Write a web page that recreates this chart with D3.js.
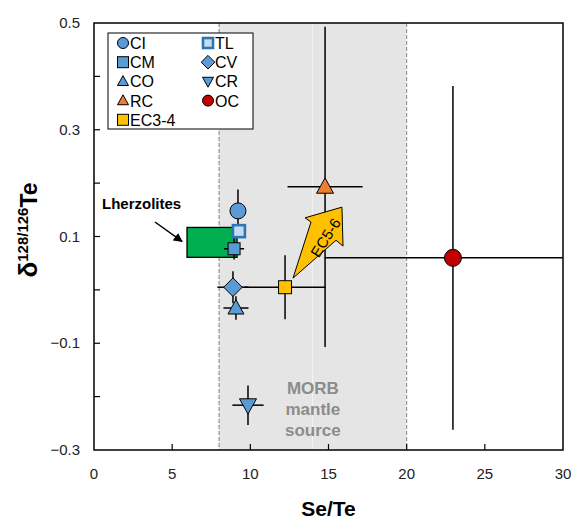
<!DOCTYPE html>
<html>
<head>
<meta charset="utf-8">
<script src="https://cdn.jsdelivr.net/npm/d3@7"></script>
<style>
  body { margin: 0; background: #fff; }
  svg { font-family: Arial, "Liberation Sans", sans-serif; }
</style>
</head>
<body>
<script>
// sample groups: Se/Te, delta, x error, y error
var names  = ["CI", "TL", "CM", "CV", "CO", "CR", "RC", "OC", "EC3-4"];
var seTe   = [9.21, 9.27, 8.96, 8.89, 9.08, 9.85, 14.78, 22.96, 12.22];
var delta  = [0.148, 0.110, 0.077, 0.005, -0.034, -0.216, 0.193, 0.060, 0.005];
var xErr   = [0, 0, 0.64, 1.0, 0.8, 1.0, 2.4, 8.2, 2.6];
var yErr   = [0.04, 0, 0.02, 0.03, 0.022, 0.037, 0.30, 0.322, 0.06];
var shapes = ["circle", "tl", "square", "diamond", "triangle", "down", "triangle", "circle", "square"];
var fills  = ["#5b9bd5", "#c5dcf0", "#5b9bd5", "#5b9bd5", "#5b9bd5", "#5b9bd5", "#ed7d31", "#c00000", "#ffc000"];

var legendOrder = ["CI", "TL", "CM", "CV", "CO", "CR", "RC", "OC", "EC3-4"];

// lherzolite field (x0, x1, y0, y1)
var lherz = [5.95, 9.15, 0.061, 0.117];
// MORB mantle source band
var morb = [8, 14, 20];
// EC5-6 arrow outline in data units
var arrowX = [12.73, 13.88, 13.50, 15.86, 15.93, 15.48];
var arrowY = [0.022, 0.127, 0.135, 0.155, 0.082, 0.093];

var xTicks = [0, 5, 10, 15, 20, 25, 30];
var yTicks = [-0.3, -0.2, -0.1, 0, 0.1, 0.2, 0.3, 0.4, 0.5];
var yLabels = [-0.3, -0.1, 0.1, 0.3, 0.5];

function drawChart() {
  var W = 575, H = 523;
  var pL = 94, pR = 563, pT = 23, pB = 450;

  var x = d3.scaleLinear().domain([0, 30]).range([pL, pR]);
  var y = d3.scaleLinear().domain([-0.3, 0.5]).range([pB, pT]);

  var svg = d3.select("body").append("svg")
    .attr("width", W)
    .attr("height", H);

  var defs = svg.append("defs");
  defs.append("clipPath").attr("id", "plot")
    .append("rect")
    .attr("x", pL).attr("y", pT)
    .attr("width", pR - pL).attr("height", pB - pT);

  defs.append("marker")
    .attr("id", "head")
    .attr("viewBox", "0 0 10 10")
    .attr("refX", 9).attr("refY", 5)
    .attr("markerWidth", 6).attr("markerHeight", 6)
    .attr("orient", "auto")
    .append("path")
    .attr("d", "M0,0 L10,5 L0,10 z")
    .attr("fill", "#000");

  // MORB band, two panels
  for (var i = 0; i < morb.length - 1; i++) {
    svg.append("rect")
      .attr("x", x(morb[i]))
      .attr("y", pT)
      .attr("width", x(morb[i + 1]) - x(morb[i]) - 0.5)
      .attr("height", pB - pT)
      .attr("fill", "#e5e5e5");
  }
  [morb[0], morb[2]].forEach(function (v) {
    svg.append("line")
      .attr("x1", x(v)).attr("x2", x(v))
      .attr("y1", pT).attr("y2", pB)
      .attr("stroke", "#7f7f7f")
      .attr("stroke-width", 1)
      .attr("stroke-dasharray", "4,2");
  });

  var morbText = ["MORB", "mantle", "source"];
  svg.append("g").selectAll("text")
    .data(morbText).enter().append("text")
    .attr("x", x(14))
    .attr("y", function (d, i) { return 394 + i * 21; })
    .attr("text-anchor", "middle")
    .attr("font-size", "17px")
    .attr("font-weight", "bold")
    .attr("fill", "#8c8c8c")
    .text(function (d) { return d; });

  // lherzolite box
  svg.append("rect")
    .attr("x", x(lherz[0]))
    .attr("y", y(lherz[3]))
    .attr("width", x(lherz[1]) - x(lherz[0]))
    .attr("height", y(lherz[2]) - y(lherz[3]))
    .attr("fill", "#00b050")
    .attr("stroke", "#000")
    .attr("stroke-width", 1.3);

  svg.append("text")
    .attr("x", 102).attr("y", 209)
    .attr("font-size", "15px")
    .attr("font-weight", "bold")
    .text("Lherzolites");

  svg.append("line")
    .attr("x1", 155).attr("y1", 222)
    .attr("x2", x(lherz[0]) - 5).attr("y2", y(lherz[3]) + 14)
    .attr("stroke", "#000")
    .attr("stroke-width", 1.5)
    .attr("marker-end", "url(#head)");

  // error bars
  var pts = names.map(function (n, i) {
    return { name: n, x: seTe[i], y: delta[i], ex: xErr[i], ey: yErr[i], shape: shapes[i], fill: fills[i] };
  });

  var eb = svg.append("g").attr("clip-path", "url(#plot)")
    .attr("stroke", "#000").attr("stroke-width", 1.5);
  pts.forEach(function (d) {
    if (d.ex > 0) {
      eb.append("line")
        .attr("x1", x(d.x - d.ex)).attr("x2", x(d.x + d.ex))
        .attr("y1", y(d.y)).attr("y2", y(d.y));
    }
    if (d.ey > 0) {
      eb.append("line")
        .attr("x1", x(d.x)).attr("x2", x(d.x))
        .attr("y1", y(d.y - d.ey)).attr("y2", y(d.y + d.ey));
    }
  });

  // EC5-6 arrow
  var arrowPts = arrowX.map(function (v, i) { return [x(v), y(arrowY[i])]; });
  svg.append("path")
    .attr("d", "M" + arrowPts.join("L") + "Z")
    .attr("fill", "#ffc000")
    .attr("stroke", "#000")
    .attr("stroke-width", 1);

  svg.append("text")
    .attr("transform", "translate(" + x(14.8) + "," + y(0.098) + ") rotate(-58)")
    .attr("text-anchor", "middle")
    .attr("dominant-baseline", "central")
    .attr("font-size", "15px")
    .text("EC5-6");

  var sizes = { "CI": 16, "TL": 14, "CM": 12, "CV": 15, "CO": 16, "CR": 17, "RC": 17, "OC": 17, "EC3-4": 13 };
  pts.forEach(function (d) {
    var g = svg.append("g").attr("transform", "translate(" + x(d.x) + "," + y(d.y) + ")");
    drawMarker(g, d.shape, d.fill, sizes[d.name]);
  });

  // frame and ticks
  svg.append("rect")
    .attr("x", pL).attr("y", pT)
    .attr("width", pR - pL).attr("height", pB - pT)
    .attr("fill", "none").attr("stroke", "#000").attr("stroke-width", 1.5);

  svg.append("g").selectAll("line").data(xTicks.slice(1, -1)).enter().append("line")
    .attr("x1", function (d) { return x(d); }).attr("x2", function (d) { return x(d); })
    .attr("y1", pB).attr("y2", pB - 6)
    .attr("stroke", "#000").attr("stroke-width", 1.2);

  svg.append("g").selectAll("line").data(yTicks.slice(1, -1)).enter().append("line")
    .attr("x1", pL).attr("x2", pL + 6)
    .attr("y1", function (d) { return y(d); }).attr("y2", function (d) { return y(d); })
    .attr("stroke", "#000").attr("stroke-width", 1.2);

  svg.append("g").selectAll("text").data(xTicks).enter().append("text")
    .attr("x", function (d) { return x(d); })
    .attr("y", 479)
    .attr("text-anchor", "middle")
    .attr("font-size", "15px")
    .attr("fill", "#222")
    .text(function (d) { return d; });

  svg.append("g").selectAll("text").data(yLabels).enter().append("text")
    .attr("x", 80)
    .attr("y", function (d) { return y(d) + 5; })
    .attr("text-anchor", "end")
    .attr("font-size", "15px")
    .attr("fill", "#222")
    .text(function (d) { return d3.format(".1f")(d); });

  svg.append("text")
    .attr("x", x(15)).attr("y", 516)
    .attr("text-anchor", "middle")
    .attr("font-size", "21px")
    .attr("font-weight", "bold")
    .text("Se/Te");

  var yl = svg.append("text")
    .attr("transform", "translate(37,230) rotate(-90)")
    .attr("text-anchor", "middle")
    .attr("font-weight", "bold")
    .attr("font-size", "23px");
  yl.append("tspan").attr("font-size", "26px").text("δ");
  yl.append("tspan").attr("font-size", "15px").attr("dy", "-9").text("128/126");
  yl.append("tspan").attr("dy", "9").text("Te");

  // legend
  var lg = svg.append("g");
  lg.append("rect")
    .attr("x", 108).attr("y", 33)
    .attr("width", 145).attr("height", 96)
    .attr("fill", "#fff").attr("stroke", "#000").attr("stroke-width", 1);

  legendOrder.forEach(function (n, k) {
    var i = names.indexOf(n);
    var col = k % 2, row = Math.floor(k / 2);
    var gx = col === 0 ? 123 : 208;
    var gy = 43 + row * 19.2;
    var g = lg.append("g").attr("transform", "translate(" + gx + "," + gy + ")");
    drawMarker(g, shapes[i], fills[i], n === "TL" ? 12 : 11);
    lg.append("text")
      .attr("x", gx + 7).attr("y", gy + 6)
      .attr("font-size", "16px")
      .text(n);
  });
}

// marker drawing
function drawMarker(g, shape, fill, s) {
  if (shape === "circle") {
    g.append("circle").attr("r", s / 2)
      .attr("fill", fill).attr("stroke", "#000").attr("stroke-width", 1);
  } else if (shape === "square") {
    g.append("rect").attr("x", -s / 2).attr("y", -s / 2)
      .attr("width", s).attr("height", s)
      .attr("fill", fill).attr("stroke", "#000").attr("stroke-width", 1);
  } else if (shape === "tl") {
    var t = s - 2;
    g.append("rect").attr("x", -t / 2).attr("y", -t / 2)
      .attr("width", t).attr("height", t)
      .attr("fill", fill).attr("stroke", "#2e75b6").attr("stroke-width", 2.6);
  } else if (shape === "diamond") {
    var h = s * 0.62;
    g.append("path").attr("d", "M0," + (-h) + "L" + h + ",0L0," + h + "L" + (-h) + ",0Z")
      .attr("fill", fill).attr("stroke", "#000").attr("stroke-width", 1);
  } else if (shape === "triangle" || shape === "down") {
    var a = s / 2, sign = shape === "down" ? -1 : 1;
    g.append("path")
      .attr("d", "M0," + (-sign * a * 1.05) + "L" + a + "," + (sign * a * 0.75) + "L" + (-a) + "," + (sign * a * 0.75) + "Z")
      .attr("fill", fill).attr("stroke", "#000").attr("stroke-width", 1);
  }
}

drawChart();
</script>
</body>
</html>
